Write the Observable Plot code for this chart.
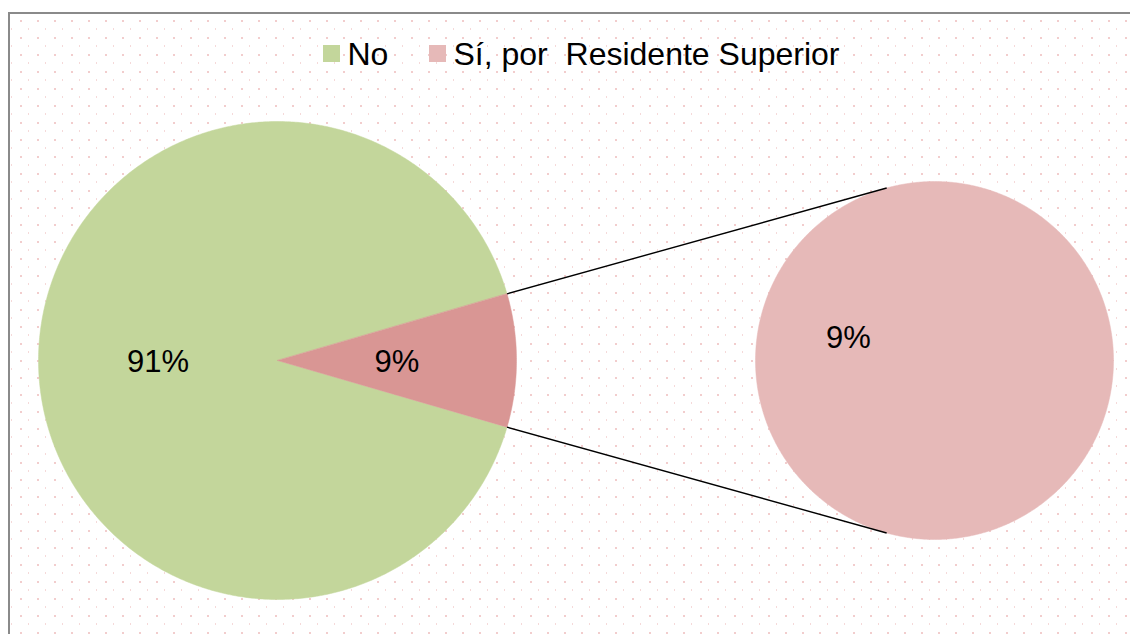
<!DOCTYPE html>
<html>
<head>
<meta charset="utf-8">
<script src="https://cdn.jsdelivr.net/npm/d3@7"></script>
<script src="https://cdn.jsdelivr.net/npm/@observablehq/plot@0.6"></script>
<style>
  html, body { margin: 0; padding: 0; background: #fff; width: 1130px; height: 634px; overflow: hidden; }
  #frame {
    position: absolute; left: 8px; top: 12px; width: 1200px; height: 700px;
    border-left: 2px solid #8a8a8a; border-top: 2px solid #8a8a8a;
    background-image: url("data:image/svg+xml,%3Csvg xmlns='http://www.w3.org/2000/svg' width='17' height='17'%3E%3Crect x='3' y='3' width='2' height='2' fill='%23f2cdcd'/%3E%3Crect x='11' y='11' width='1' height='2' fill='%23f5d9d9'/%3E%3C/svg%3E");
    background-size: 17px 17px; background-origin: border-box; background-position: 9px 5px;
  }
  #chart { position: absolute; left: 0; top: 0; }
</style>
</head>
<body>
<div id="frame"></div>
<div id="chart"></div>
<script>
// ---- data ----
const categories = ["No", "Sí, por  Residente Superior"];
const values = [91, 9];
const labels = ["91%", "9%"];
const subValues = [9];
const subLabels = ["9%"];
const sliceColors = ["#c3d69b", "#d99694"];
const subColor = "#e6b9b8";
const legendColors = ["#c3d69b", "#e6b9b8"];

// ---- layout ----
const W = 1130, H = 634;
const main = {cx: 277, cy: 360, r: 239};
const sub = {cx: 934, cy: 360, r: 179};
const subConnectorAngle = 105.5 * Math.PI / 180; // from +x, measured upward
const subLabelAngle = 194.3 * Math.PI / 180;
const legendX = [323, 429];
const legendY = 45, legendBox = 17, legendFont = 32;
const font = "Liberation Sans, Arial, sans-serif";

// ---- geometry from values ----
const total = d3.sum(values);
const half = Math.PI * values[1] / total;          // half-angle of the exploded slice (centred on the right)
const slices = [
  {key: categories[0], a0: half, a1: 2 * Math.PI - half, color: sliceColors[0], label: labels[0], c: main},
  {key: categories[1], a0: -half, a1: half, color: sliceColors[1], label: labels[1], c: main}
];
const subSlices = [{key: "sub", a0: 0, a1: 2 * Math.PI, color: subColor, label: subLabels[0], c: sub, full: true}];

function wedge(s) {
  const pts = [];
  const n = Math.max(8, Math.ceil((s.a1 - s.a0) / (Math.PI / 360)));
  if (!s.full) pts.push({key: s.key, color: s.color, x: s.c.cx, y: s.c.cy});
  for (let i = 0; i <= n; i++) {
    const a = s.a0 + (s.a1 - s.a0) * i / n;
    pts.push({key: s.key, color: s.color, x: s.c.cx + s.c.r * Math.cos(a), y: s.c.cy - s.c.r * Math.sin(a)});
  }
  return pts;
}
const polys = [...slices, ...subSlices].flatMap(wedge);

const labelPts = [
  ...slices.map(s => {
    const m = (s.a0 + s.a1) / 2;
    return {text: s.label, x: s.c.cx + 0.5 * s.c.r * Math.cos(m), y: s.c.cy - 0.5 * s.c.r * Math.sin(m) + 2};
  }),
  {text: subSlices[0].label, x: sub.cx + 0.496 * sub.r * Math.cos(subLabelAngle), y: sub.cy + 0.496 * sub.r * Math.sin(subLabelAngle)}
];

const connectors = [1, -1].map(sg => ({
  x1: main.cx + main.r * Math.cos(half), y1: main.cy - sg * main.r * Math.sin(half),
  x2: sub.cx + sub.r * Math.cos(subConnectorAngle), y2: sub.cy - sg * sub.r * Math.sin(subConnectorAngle)
}));

const legend = categories.map((c, i) => ({name: c, color: legendColors[i], x: legendX[i]}));

const plot = Plot.plot({
  width: W, height: H,
  margin: 0,
  x: {type: "identity", axis: null},
  y: {type: "identity", axis: null},
  color: {type: "identity"},
  style: {background: "transparent", overflow: "visible"},
  marks: [
    Plot.line(polys, {x: "x", y: "y", z: "key", fill: "color", stroke: "color", strokeWidth: 0.5, curve: "linear-closed"}),
    Plot.link(connectors, {x1: "x1", y1: "y1", x2: "x2", y2: "y2", stroke: "#000", strokeWidth: 1.4}),
    Plot.text(labelPts, {x: "x", y: "y", text: "text", fontSize: 31, fontFamily: font, fill: "#000", textAnchor: "middle", lineAnchor: "middle"}),
    Plot.rect(legend, {x1: "x", x2: d => d.x + legendBox, y1: () => legendY, y2: () => legendY + legendBox, fill: "color"}),
    Plot.text(legend, {x: d => d.x + legendBox + 7, y: () => 64, text: "name", fontSize: legendFont, fontFamily: font, fill: "#000", textAnchor: "start", lineAnchor: "bottom"})
  ]
});
document.getElementById("chart").appendChild(plot);
</script>
</body>
</html>
